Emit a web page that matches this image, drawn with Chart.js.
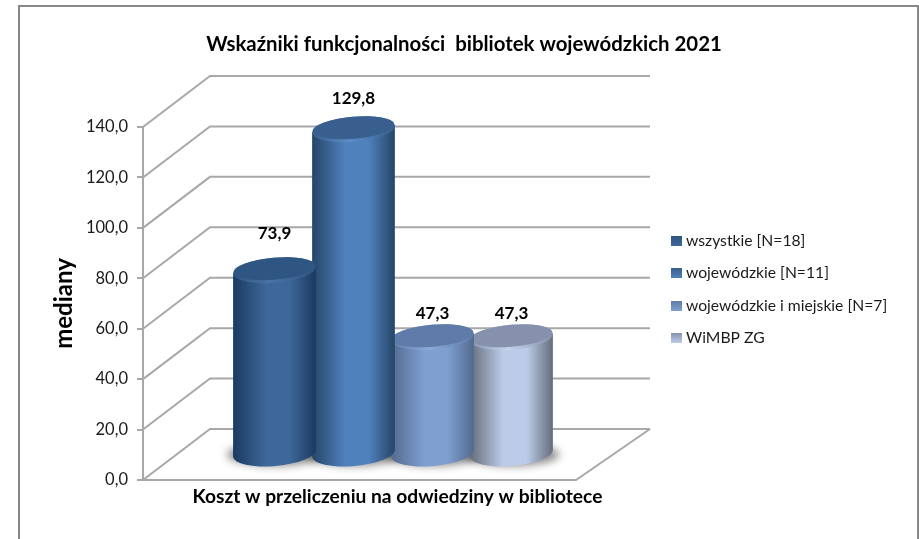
<!DOCTYPE html>
<html lang="pl">
<head>
<meta charset="utf-8">
<title>Wskaźniki funkcjonalności bibliotek wojewódzkich 2021</title>
<script src="https://cdn.jsdelivr.net/npm/chart.js@4/dist/chart.umd.min.js"></script>
<style>
    html, body { margin: 0; background: #fff; overflow: hidden; }
    #ramka { position: absolute; left: 18px; top: 5px; width: 897px; height: 600px; border: 2px solid #888; }
    #wykres { position: absolute; left: 0; top: 0; }
</style>
</head>
<body>
<div id="ramka"></div>
<canvas id="wykres" width="919" height="539"></canvas>
<script>
const tytul = 'Wskaźniki funkcjonalności  bibliotek wojewódzkich 2021';
const kategorie = ['Koszt w przeliczeniu na odwiedziny w bibliotece'];
const serie = ['wszystkie [N=18]', 'wojewódzkie [N=11]', 'wojewódzkie i miejskie [N=7]', 'WiMBP ZG'];
const wartosci = [73.9, 129.8, 47.3, 47.3];

// kolory walców: krawędź, środek, góra, obwódka góry
const kolory = [
    ['#1b3a60', '#3e6899', '#2f5582', '#4a74a6'],
    ['#264568', '#4f81bd', '#385f8e', '#5c8dc8'],
    ['#526a8e', '#7f9fd0', '#5f7ba8', '#8aaadb'],
    ['#666d7c', '#bccce8', '#8692ad', '#c5d3ea']
];
const uniesienieEtykiety = [35, 29, 21.5, 21.5];

// przesunięcie tylnej ściany 3D
const glebX = 67;
const glebY = 51;
const prawyKoniec = 650;
const kolorSiatki = '#a8a8a8';
const czcionka = 'Lato, Carlito, sans-serif';
const przecinek = v => v.toFixed(1).replace('.', ',');

function linia(ctx, punkty) {
    ctx.beginPath();
    punkty.forEach((p, i) => i ? ctx.lineTo(p[0], p[1]) : ctx.moveTo(p[0], p[1]));
    ctx.stroke();
}

function walec(ctx, cx, gora, dol, rx, ry, kolor) {
    const obrot = -5 * Math.PI / 180;
    const ex = rx * Math.cos(obrot);
    const ey = rx * Math.sin(obrot);

    const grad = ctx.createLinearGradient(cx - ex, 0, cx + ex, 0);
    grad.addColorStop(0, kolor[0]);
    grad.addColorStop(0.4, kolor[1]);
    grad.addColorStop(0.68, kolor[1]);
    grad.addColorStop(1, kolor[0]);

    ctx.fillStyle = grad;
    ctx.beginPath();
    ctx.moveTo(cx - ex, gora - ey);
    ctx.lineTo(cx - ex, dol - ey);
    ctx.ellipse(cx, dol, rx, ry, obrot, Math.PI, 0, true);
    ctx.lineTo(cx + ex, gora + ey);
    ctx.closePath();
    ctx.fill();

    // obwódka gasnąca ku krawędziom
    const rant = ctx.createLinearGradient(cx - ex, 0, cx + ex, 0);
    rant.addColorStop(0, kolor[2]);
    rant.addColorStop(0.45, kolor[3]);
    rant.addColorStop(1, kolor[2]);
    ctx.fillStyle = rant;
    ctx.beginPath();
    ctx.ellipse(cx, gora, rx, ry, obrot, 0, Math.PI * 2);
    ctx.fill();
    ctx.fillStyle = kolor[2];
    ctx.beginPath();
    ctx.ellipse(cx, gora - 1.5, rx - 0.5, ry - 1.5, obrot, 0, Math.PI * 2);
    ctx.fill();
}

const scena3d = {
    id: 'scena3d',
    beforeDatasetsDraw(chart) {
        const ctx = chart.ctx;
        const skala = chart.scales.y;
        const { left, right, bottom } = chart.chartArea;
        ctx.save();
        ctx.strokeStyle = kolorSiatki;
        ctx.lineWidth = 2;
        skala.ticks.forEach(t => {
            const y = skala.getPixelForValue(t.value);
            linia(ctx, [[left, y], [left + glebX, y - glebY], [prawyKoniec, y - glebY]]);
        });
        linia(ctx, [[left, bottom], [right, bottom], [prawyKoniec, bottom - glebY]]);

        // cień pod walcami
        ctx.filter = 'blur(4px)';
        ctx.fillStyle = 'rgba(50,50,50,0.6)';
        serie.forEach((nazwa, i) => {
            const bar = chart.getDatasetMeta(i).data[0];
            ctx.beginPath();
            ctx.ellipse(bar.x + glebX / 2, bar.base - glebY / 2 + 1, bar.width / 2 + 8, 11, 0, 0, Math.PI * 2);
            ctx.fill();
        });
        ctx.restore();
    },
    beforeDatasetDraw(chart, args) {
        // słupek rysowany jako walec w miejscu wyliczonym przez skale
        const bar = chart.getDatasetMeta(args.index).data[0];
        const ctx = chart.ctx;
        ctx.save();
        walec(ctx, bar.x + glebX / 2, bar.y - glebY / 2 + 2, bar.base - glebY / 2,
            bar.width / 2 + 2, 12.5, kolory[args.index]);
        ctx.restore();
        return false;
    },
    afterDatasetsDraw(chart) {
        const ctx = chart.ctx;
        ctx.save();
        ctx.fillStyle = '#000';
        ctx.textAlign = 'center';
        ctx.textBaseline = 'middle';

        ctx.font = 'bold 17px ' + czcionka;
        wartosci.forEach((w, i) => {
            const bar = chart.getDatasetMeta(i).data[0];
            ctx.fillText(przecinek(w), bar.x + glebX / 2, bar.y - glebY / 2 - uniesienieEtykiety[i]);
        });

        ctx.font = 'bold 20.4px ' + czcionka;
        ctx.fillText(tytul, 464, 44);

        ctx.font = 'bold 19.2px ' + czcionka;
        ctx.fillText(kategorie[0], 397.5, 497);

        // legenda
        const legendaY = [241, 273, 306, 338];
        ctx.textAlign = 'left';
        ctx.font = '15.7px ' + czcionka;
        serie.forEach((nazwa, i) => {
            const grad = ctx.createLinearGradient(0, legendaY[i] - 5, 0, legendaY[i] + 5);
            grad.addColorStop(0, kolory[i][2]);
            grad.addColorStop(1, kolory[i][1]);
            ctx.fillStyle = grad;
            ctx.fillRect(671, legendaY[i] - 5, 11, 10);
            ctx.fillStyle = '#1a1a1a';
            ctx.fillText(nazwa, 686, legendaY[i]);
        });
        ctx.restore();
    }
};

new Chart(document.getElementById('wykres').getContext('2d'), {
    type: 'bar',
    data: {
        labels: kategorie,
        datasets: serie.map((nazwa, i) => ({ label: nazwa, data: [wartosci[i]], backgroundColor: kolory[i][1] }))
    },
    plugins: [scena3d],
    options: {
        responsive: false,
        animation: false,
        layout: { padding: { left: 50, right: 343, top: 127, bottom: 59 } },
        datasets: { bar: { categoryPercentage: 0.73, barPercentage: 1 } },
        plugins: { legend: { display: false }, tooltip: { enabled: false }, title: { display: false } },
        scales: {
            x: { display: false },
            y: {
                min: 0,
                max: 140,
                afterFit(scale) { scale.width = 93; },
                border: { color: kolorSiatki, width: 2 },
                grid: { drawOnChartArea: false, color: kolorSiatki, lineWidth: 2, tickLength: 6 },
                ticks: {
                    stepSize: 20,
                    padding: 9,
                    color: '#1a1a1a',
                    font: { family: czcionka, size: 16.5 },
                    callback: v => przecinek(v)
                },
                title: {
                    display: true,
                    text: 'mediany',
                    color: '#000',
                    padding: 0,
                    font: { family: czcionka, size: 24, weight: 'bold' }
                }
            }
        }
    }
});
</script>
</body>
</html>
